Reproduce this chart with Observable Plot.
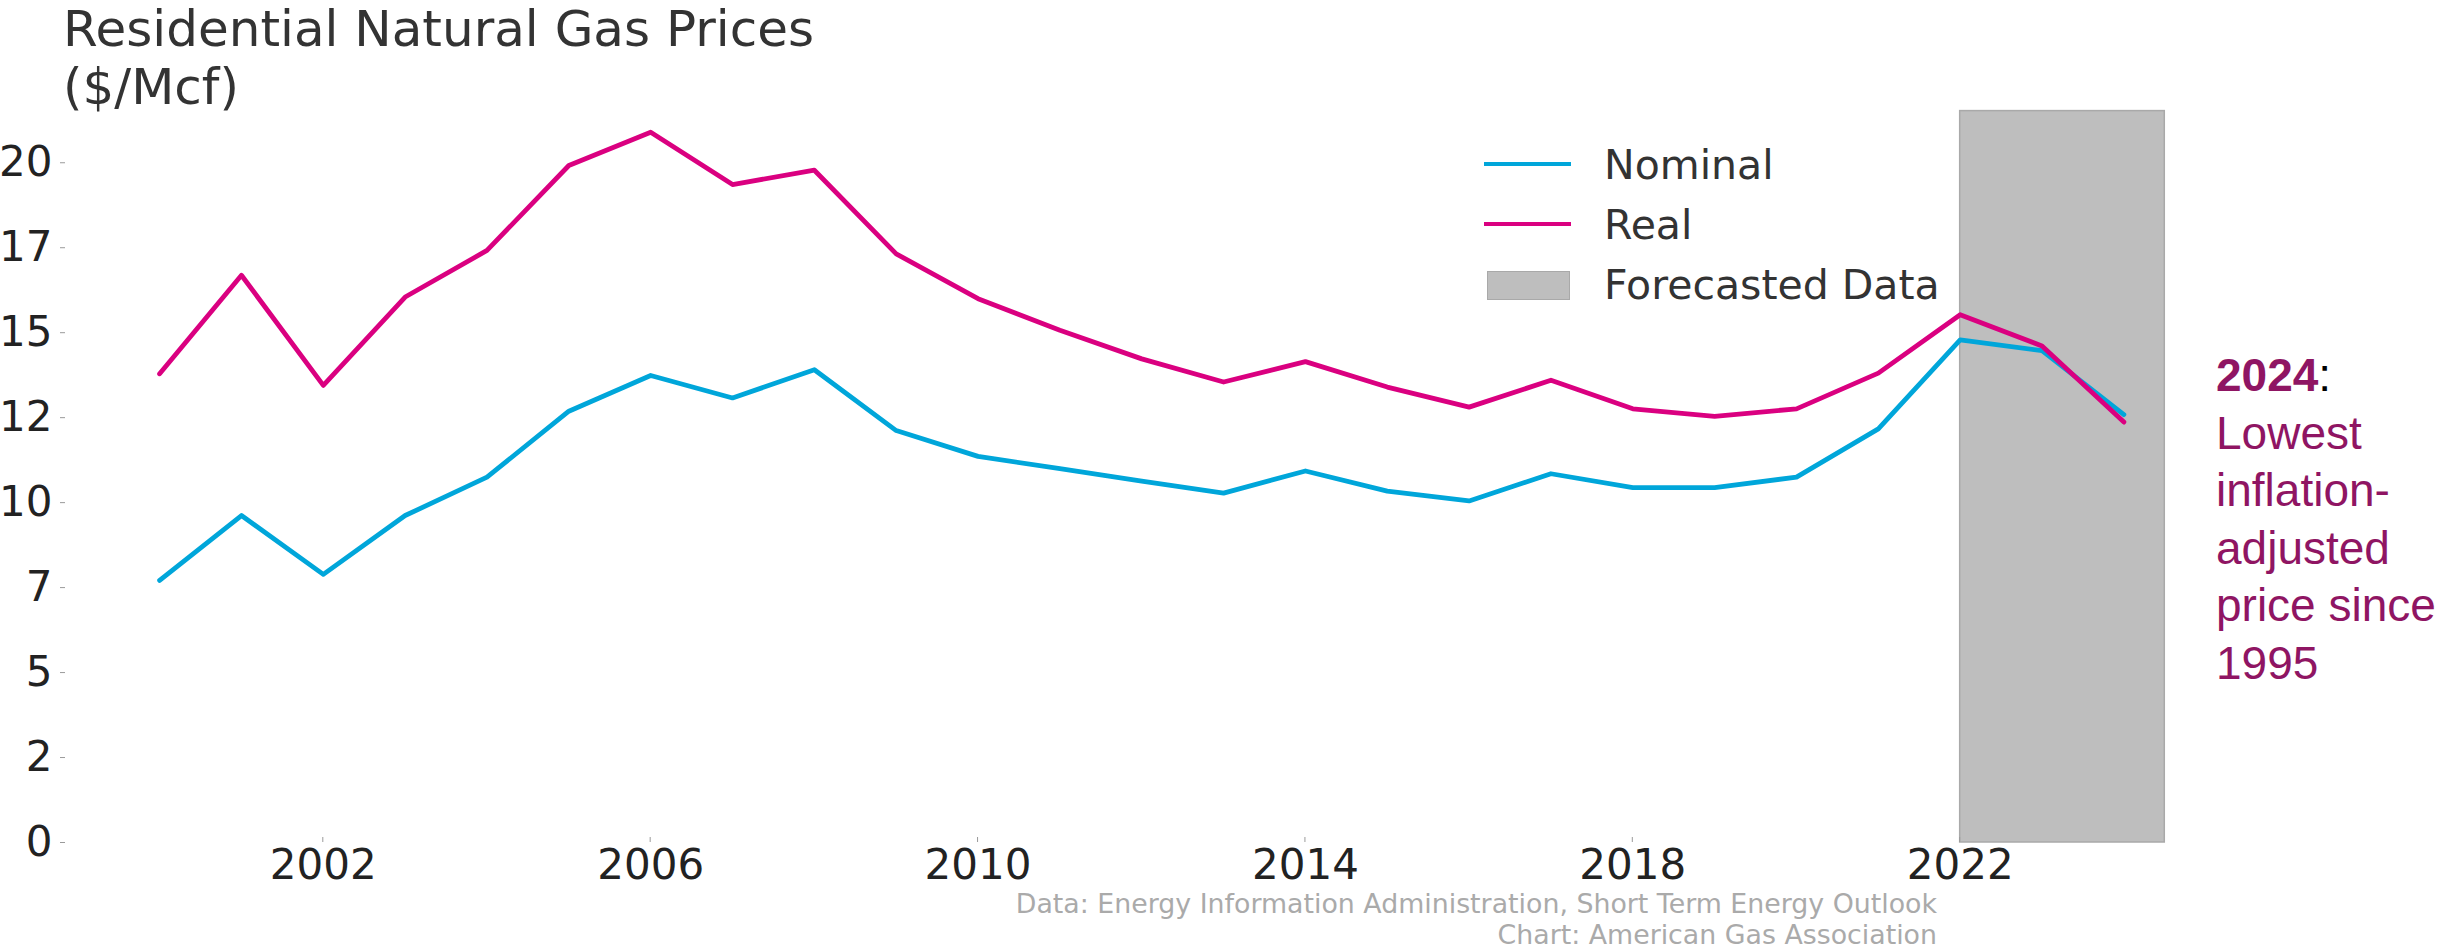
<!DOCTYPE html>
<html><head><meta charset="utf-8">
<script src="https://cdn.jsdelivr.net/npm/d3@7"></script>
<script src="https://cdn.jsdelivr.net/npm/@observablehq/plot@0.6"></script>
<style>
html,body{margin:0;padding:0;background:#fff;}
#wrap{position:relative;width:2446px;height:951px;overflow:hidden;font-family:"DejaVu Sans",sans-serif;}
#chart{position:absolute;left:0;top:0;}
.abs{position:absolute;white-space:nowrap;}
.title{left:63px;font-size:50px;line-height:46px;color:#333;}
.cap{right:509px;text-align:right;font-size:26.8px;line-height:31px;color:#aaaaaa;}
g[aria-label="y-axis tick"], g[aria-label="x-axis tick"]{stroke:#9a9a9a;}
g[aria-label="x-axis tick"]{transform:translate(0px,-5px);}
</style></head><body>
<div id="wrap">
  <div id="chart"></div>
  <div class="abs title" style="top:6.2px;">Residential Natural Gas Prices</div>
  <div class="abs title" style="top:64.2px;">($/Mcf)</div>
  <div id="legend"></div>
  <div class="abs" id="note" style="left:2216px;top:347px;font-family:'Liberation Sans',Arial,sans-serif;font-size:46px;line-height:57.5px;color:#8f1563;"><b>2024</b><span style="color:#000">:</span><br>Lowest<br>inflation-<br>adjusted<br>price since<br>1995</div>
  <div class="abs cap" style="top:887.7px;">Data: Energy Information Administration, Short Term Energy Outlook</div>
  <div class="abs cap" style="top:918.7px;">Chart: American Gas Association</div>
</div>
<script>
const years = [2000,2001,2002,2003,2004,2005,2006,2007,2008,2009,2010,2011,2012,2013,2014,2015,2016,2017,2018,2019,2020,2021,2022,2023,2024];
const nominal = [7.71,9.62,7.89,9.62,10.75,12.69,13.74,13.08,13.91,12.12,11.36,11.00,10.63,10.28,10.93,10.34,10.05,10.85,10.44,10.44,10.75,12.17,14.79,14.47,12.59];
const real = [13.79,16.69,13.45,16.05,17.42,19.92,20.90,19.36,19.78,17.32,16.00,15.07,14.23,13.55,14.15,13.40,12.81,13.60,12.76,12.54,12.76,13.81,15.53,14.61,12.37];
const seriesNames = ["Nominal","Real"];
const seriesColors = ["#00a6da","#da0080"];
const forecastLabel = "Forecasted Data";
const forecastStart = 2022;
const forecastEnd = 2024.5;
const xTicks = [2002,2006,2010,2014,2018,2022];
const yTicks = [0,2.5,5,7.5,10,12.5,15,17.5,20];
const yTickLabels = ["0","2","5","7","10","12","15","17","20"];
const yMax = 21.52;

const yLabelMap = new Map(yTicks.map((t,i)=>[t,yTickLabels[i]]));
const rows = years.flatMap((yr,i)=>[
  {year: yr, value: nominal[i], series: seriesNames[0]},
  {year: yr, value: real[i], series: seriesNames[1]}
]);

const chart = Plot.plot({
  width: 2446, height: 951,
  marginTop: 110.6, marginBottom: 109, marginLeft: 65, marginRight: 183.5,
  style: {fontFamily: "DejaVu Sans", fontSize: "42px", color: "#222", background: "transparent", overflow: "visible"},
  x: {domain: [1998.85, 2025.7]},
  y: {domain: [0, yMax]},
  color: {domain: seriesNames, range: seriesColors},
  marks: [
    Plot.rect([{x1: forecastStart, x2: forecastEnd, y1: 0, y2: yMax}], {x1: "x1", x2: "x2", y1: "y1", y2: "y2", fill: "#bebebe", stroke: "#a9a9a9", strokeWidth: 1.5}),
    Plot.axisX({ticks: xTicks, tickFormat: d => String(d), tickSize: 5, tickPadding: 2, label: null}),
    Plot.axisY({ticks: yTicks, tickFormat: d => yLabelMap.get(d), tickSize: 5, tickPadding: 8, label: null}),
    Plot.line(rows, {x: "year", y: "value", z: "series", stroke: "series", strokeWidth: 4.8})
  ]
});
document.getElementById("chart").appendChild(chart);

// legend
const legend = document.getElementById("legend");
const items = [
  {label: seriesNames[0], kind: "line", color: seriesColors[0]},
  {label: seriesNames[1], kind: "line", color: seriesColors[1]},
  {label: forecastLabel, kind: "rect", color: "#bebebe"}
];
items.forEach((it, i) => {
  const rowTop = 135.1 + i * 60;
  const sw = document.createElement("div");
  sw.className = "abs";
  if (it.kind === "line") {
    sw.style.cssText = `left:1484px;top:${rowTop + 28.9 - 2.4}px;width:87px;height:4.8px;background:${it.color};`;
  } else {
    sw.style.cssText = `left:1487px;top:${rowTop + 15.9}px;width:83px;height:29px;background:${it.color};border:1.5px solid #a9a9a9;box-sizing:border-box;`;
  }
  legend.appendChild(sw);
  const tx = document.createElement("div");
  tx.className = "abs";
  tx.style.cssText = `left:1604px;top:${rowTop}px;font-size:41px;line-height:60px;color:#333;`;
  tx.textContent = it.label;
  legend.appendChild(tx);
});
</script>
</body></html>
